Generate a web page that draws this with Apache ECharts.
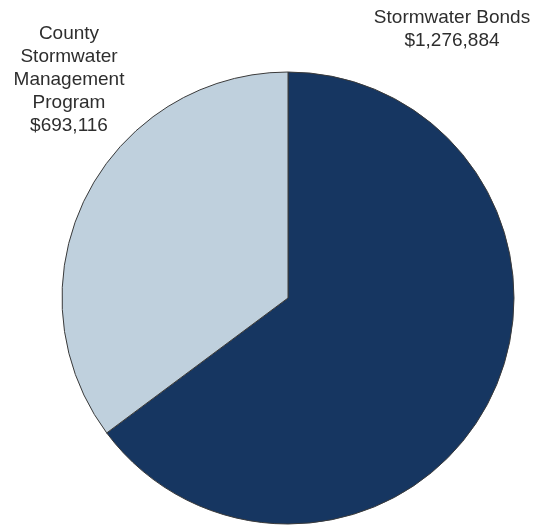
<!DOCTYPE html>
<html>
<head>
<meta charset="utf-8">
<script src="https://cdn.jsdelivr.net/npm/echarts@6/dist/echarts.min.js"></script>
<style>
html,body{margin:0;padding:0;background:#fff;}
#chart{width:543px;height:525px;}
</style>
</head>
<body>
<div id="chart"></div>
<script>
const categories = ['Stormwater Bonds', 'County\nStormwater\nManagement\nProgram'];
const values = [1276884, 693116];
const valueLabels = ['$1,276,884', '$693,116'];
const colors = ['#163661', '#bfd0dd'];

const chart = echarts.init(document.getElementById('chart'), null, {renderer: 'canvas'});
const labelPos = [
  {x: 452, y: 29},
  {x: 69, y: 80}
];
chart.setOption({
  animation: false,
  graphic: categories.map((c, i) => ({
    type: 'text',
    x: labelPos[i].x,
    y: labelPos[i].y,
    silent: true,
    style: {
      text: c + '\n' + valueLabels[i],
      font: '19px "Liberation Sans", Arial, sans-serif',
      lineHeight: 23,
      fill: '#2e2e2e',
      align: 'center',
      verticalAlign: 'middle'
    }
  })),
  series: [{
    type: 'pie',
    center: [288, 298],
    radius: 226,
    startAngle: 90,
    clockwise: true,
    data: categories.map((c, i) => ({
      name: c,
      value: values[i],
      itemStyle: {color: colors[i]}
    })),
    itemStyle: {borderColor: '#3a3a3a', borderWidth: 1},
    label: {show: false},
    labelLine: {show: false},
    emphasis: {disabled: true}
  }]
});
</script>
</body>
</html>
